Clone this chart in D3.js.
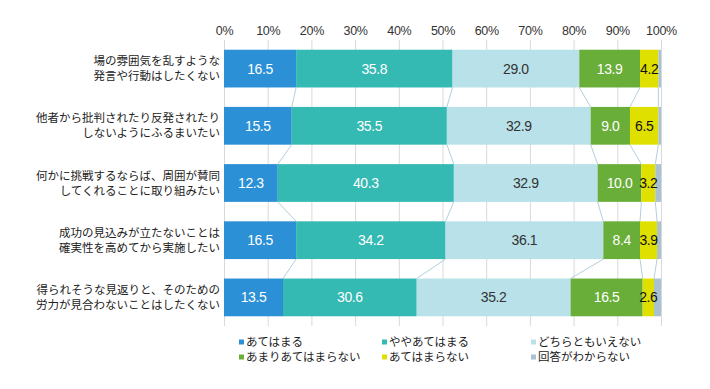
<!DOCTYPE html>
<html>
<head>
<meta charset="utf-8">
<script src="https://cdn.jsdelivr.net/npm/d3@7"></script>
<style>
  body { margin: 0; background: #fff; }
  svg text { font-family: "Noto Sans CJK JP", "Liberation Sans", sans-serif; }
</style>
</head>
<body>
<figure id="chart" style="margin:0"></figure>
<script>
// categories (two lines each)
const categories = [
  ["場の雰囲気を乱すような", "発言や行動はしたくない"],
  ["他者から批判されたり反発されたり", "しないようにふるまいたい"],
  ["何かに挑戦するならば、周囲が賛同", "してくれることに取り組みたい"],
  ["成功の見込みが立たないことは", "確実性を高めてから実施したい"],
  ["得られそうな見返りと、そのための", "労力が見合わないことはしたくない"]
];
const seriesNames = ["あてはまる", "ややあてはまる", "どちらともいえない", "あまりあてはまらない", "あてはまらない", "回答がわからない"];
const atehamaru = [16.5, 15.5, 12.3, 16.5, 13.5];
const yayaAtehamaru = [35.8, 35.5, 40.3, 34.2, 30.6];
const dochiraTomo = [29.0, 32.9, 32.9, 36.1, 35.2];
const amariAtehamaranai = [13.9, 9.0, 10.0, 8.4, 16.5];
const atehamaranai = [4.2, 6.5, 3.2, 3.9, 2.6];
const wakaranai = [0.6, 0.6, 1.3, 0.9, 1.6];
const tickValues = [0, 10, 20, 30, 40, 50, 60, 70, 80, 90, 100];

const seriesValues = [atehamaru, yayaAtehamaru, dochiraTomo, amariAtehamaranai, atehamaranai, wakaranai];
const colors = ["#2b90d5", "#35b9b3", "#b8e1e9", "#6aae3a", "#dfe000", "#a9c1d0"];
const labelColors = ["#fff", "#fff", "#333", "#fff", "#111", null];

const width = 710, height = 389;
const svg = d3.select("#chart").append("svg")
  .attr("width", width).attr("height", height);

const x = d3.scaleLinear().domain([0, 100]).range([224, 661]);
const y = d3.scaleBand().domain(d3.range(categories.length))
  .range([40, 326]).paddingInner(0.34).paddingOuter(0.17);

// gridlines
svg.append("g")
  .selectAll("line")
  .data(tickValues)
  .join("line")
  .attr("x1", d => x(d) + 0.5).attr("x2", d => x(d) + 0.5)
  .attr("y1", 40).attr("y2", 326)
  .attr("stroke", "#d9d9d9").attr("stroke-width", 1);

// top axis labels
const axis = svg.append("g")
  .attr("transform", "translate(0,40)")
  .call(d3.axisTop(x).tickValues(tickValues).tickSize(0).tickPadding(5).tickFormat(d => d + "%"));
axis.select(".domain").remove();
axis.selectAll("text")
  .attr("fill", "#333")
  .style("font-family", "'Liberation Sans', sans-serif")
  .style("font-size", "12.5px")
  .style("letter-spacing", "-0.3px");

// stacked data
const rows = categories.map((c, i) => {
  let acc = 0;
  return seriesValues.map((s, k) => {
    const seg = {k, x0: acc, x1: acc + s[i], v: s[i]};
    acc += s[i];
    return seg;
  });
});

// connector lines between bars
const conn = svg.append("g");
for (let i = 0; i < rows.length - 1; i++) {
  for (let k = 0; k < seriesValues.length - 1; k++) {
    conn.append("line")
      .attr("x1", x(rows[i][k].x1)).attr("y1", y(i) + y.bandwidth())
      .attr("x2", x(rows[i + 1][k].x1)).attr("y2", y(i + 1))
      .attr("stroke", "#b3cfdc").attr("stroke-width", 1);
  }
}

// bars
const bars = svg.append("g")
  .selectAll("g")
  .data(rows)
  .join("g")
  .attr("transform", (d, i) => `translate(0,${y(i)})`);

bars.selectAll("rect")
  .data(d => d)
  .join("rect")
  .attr("x", d => x(d.x0))
  .attr("width", d => x(d.x1) - x(d.x0))
  .attr("height", y.bandwidth())
  .attr("fill", d => colors[d.k]);

bars.selectAll("text")
  .data(d => d.filter(s => labelColors[s.k]))
  .join("text")
  .attr("x", d => (x(d.x0) + x(d.x1)) / 2)
  .attr("y", y.bandwidth() / 2)
  .attr("dy", "0.36em")
  .attr("text-anchor", "middle")
  .attr("fill", d => labelColors[d.k])
  .style("font-family", "'Liberation Sans', sans-serif")
  .style("font-size", "14px")
  .style("letter-spacing", "-0.4px")
  .text(d => d.v.toFixed(1));

// category labels
svg.append("g")
  .selectAll("text")
  .data(categories)
  .join("text")
  .attr("text-anchor", "end")
  .attr("fill", "#222")
  .style("font-size", "11.5px")
  .each(function (d, i) {
    const t = d3.select(this);
    const cy = y(i) + y.bandwidth() / 2;
    d.forEach((line, j) => {
      t.append("tspan")
        .attr("x", 220)
        .attr("y", cy + (j - 0.5) * 15)
        .attr("dy", "0.35em")
        .text(line);
    });
  });

// legend
const legendX = [239, 382, 531];
const legendY = [342, 357];
const legend = svg.append("g")
  .selectAll("g")
  .data(seriesNames)
  .join("g")
  .attr("transform", (d, i) => `translate(${legendX[i % 3]},${legendY[Math.floor(i / 3)]})`);
legend.append("rect")
  .attr("x", 0).attr("y", -2.5).attr("width", 5).attr("height", 5)
  .attr("fill", (d, i) => colors[i]);
legend.append("text")
  .attr("x", 7).attr("dy", "0.35em")
  .attr("fill", "#222")
  .style("font-size", "11.5px")
  .text(d => d);
</script>
</body>
</html>
